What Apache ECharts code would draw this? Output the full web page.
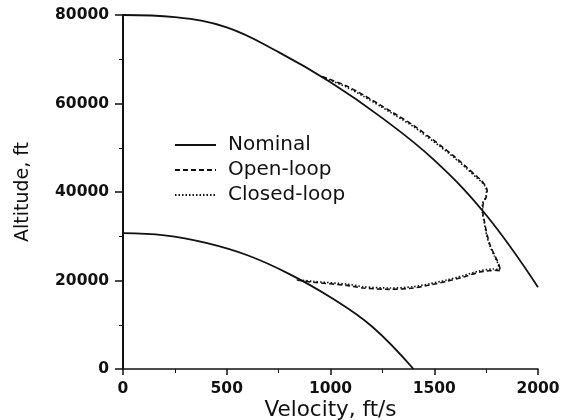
<!DOCTYPE html>
<html>
<head>
<meta charset="utf-8">
<script src="https://cdn.jsdelivr.net/npm/echarts@6/dist/echarts.min.js"></script>
<style>
  html, body { margin: 0; padding: 0; background: #fff; }
  #chart { width: 564px; height: 420px; }
</style>
</head>
<body>
<div id="chart"></div>
<script>
// Upper boundary (nominal): velocity ft/s, altitude ft
const nominalUpperV = [0, 250, 500, 750, 1000, 1250, 1500, 1750, 2000];
const nominalUpperH = [80000, 79500, 77200, 71600, 64800, 56700, 47200, 34800, 18500];

// Lower boundary (nominal)
const nominalLowerV = [0, 200, 400, 600, 800, 1000, 1200, 1400];
const nominalLowerH = [30700, 30200, 28500, 25700, 21500, 16200, 9600, 0];

// Open-loop trajectory
const openV = [960, 1014, 1078, 1160, 1239, 1320, 1399, 1465, 1528, 1595, 1656, 1700, 1725, 1745, 1755, 1750, 1735, 1734, 1742, 1755, 1771, 1793, 1810, 1820,
               1790, 1720, 1640, 1560, 1480, 1399, 1287, 1158, 1078, 917, 837];
const openH = [66100, 65150, 63950, 61900, 59700, 57400, 55100, 52800, 50600, 48100, 45600, 43700, 42700, 41500, 40400, 38800, 37200, 35500, 33300, 30300, 27800, 25500, 23800, 22200,
               22300, 21900, 20800, 19800, 19000, 18300, 18000, 18300, 18900, 19600, 20100];

// Closed-loop trajectory
const closedV = [960, 1014, 1078, 1160, 1239, 1320, 1399, 1465, 1528, 1595, 1656, 1700, 1725, 1745, 1752, 1748, 1732, 1732, 1740, 1752, 1768, 1790, 1806, 1815,
                 1785, 1720, 1640, 1560, 1480, 1399, 1287, 1158, 1078, 917, 837];
const closedH = [66000, 64950, 63700, 61600, 59400, 57100, 54800, 52500, 50300, 47800, 45300, 43400, 42400, 41300, 40300, 38800, 37200, 35500, 33300, 30300, 27800, 25500, 23900, 22400,
                 22600, 22200, 21100, 20100, 19300, 18600, 18300, 18600, 19200, 19800, 20200];

const pairs = (xs, ys) => xs.map((x, i) => [x, ys[i]]);

const ink = '#111';
const tickFont = { fontFamily: 'DejaVu Sans', fontWeight: 'bold', fontSize: 15.5, color: ink };

const chart = echarts.init(document.getElementById('chart'), null, { renderer: 'canvas' });
chart.setOption({
  animation: false,
  backgroundColor: '#fff',
  grid: { left: 123, right: 26, top: 15, bottom: 51, containLabel: false, outerBoundsMode: 'none' },
  legend: {
    orient: 'vertical',
    left: 169,
    top: 130,
    itemWidth: 41,
    itemHeight: 14,
    itemGap: 5,
    data: ['Nominal', 'Open-loop', 'Closed-loop'],
    // line samples only, no marker in the middle
    itemStyle: { color: 'transparent', borderWidth: 0, opacity: 0 },
    textStyle: { fontFamily: 'DejaVu Sans', fontSize: 20, color: ink, padding: [0, 0, 0, 7] }
  },
  xAxis: {
    type: 'value',
    min: 0, max: 2000, interval: 500,
    name: 'Velocity, ft/s',
    nameLocation: 'middle',
    nameGap: 30,
    nameMoveOverlap: false,
    nameTextStyle: { fontFamily: 'DejaVu Sans', fontSize: 21.5, color: ink, verticalAlign: 'top' },
    axisLine: { show: true, lineStyle: { color: ink, width: 1.5 } },
    axisTick: { show: true, length: 6, lineStyle: { color: ink, width: 1.5 } },
    minorTick: { show: true, splitNumber: 2, length: 4, lineStyle: { color: ink, width: 1 } },
    splitLine: { show: false },
    axisLabel: Object.assign({ margin: 12, formatter: v => String(v) }, tickFont)
  },
  yAxis: {
    type: 'value',
    min: 0, max: 80000, interval: 20000,
    name: 'Altitude, ft',
    nameLocation: 'middle',
    nameRotate: 90,
    nameGap: 90,
    nameMoveOverlap: false,
    nameTextStyle: { fontFamily: 'DejaVu Sans', fontSize: 19, color: ink },
    axisLine: { show: true, lineStyle: { color: ink, width: 2 } },
    axisTick: { show: true, length: 8, lineStyle: { color: ink, width: 1.5 } },
    minorTick: { show: true, splitNumber: 2, length: 4, lineStyle: { color: ink, width: 1 } },
    splitLine: { show: false },
    axisLabel: Object.assign({ margin: 14, formatter: v => String(v) }, tickFont)
  },
  series: [
    {
      name: 'Nominal', type: 'line', smooth: 0.4, symbol: 'none',
      data: pairs(nominalUpperV, nominalUpperH),
      lineStyle: { color: ink, width: 1.8, type: 'solid' }, itemStyle: { color: ink }
    },
    {
      name: 'Nominal', type: 'line', smooth: 0.4, symbol: 'none',
      data: pairs(nominalLowerV, nominalLowerH),
      lineStyle: { color: ink, width: 1.8, type: 'solid' }, itemStyle: { color: ink }
    },
    {
      name: 'Open-loop', type: 'line', smooth: 0.25, symbol: 'none',
      data: pairs(openV, openH),
      lineStyle: { color: ink, width: 1.6, type: [5, 3] }, itemStyle: { color: ink }
    },
    {
      name: 'Closed-loop', type: 'line', smooth: 0.25, symbol: 'none',
      data: pairs(closedV, closedH),
      lineStyle: { color: ink, width: 1.6, type: [1.5, 2] }, itemStyle: { color: ink }
    }
  ]
});
</script>
</body>
</html>
